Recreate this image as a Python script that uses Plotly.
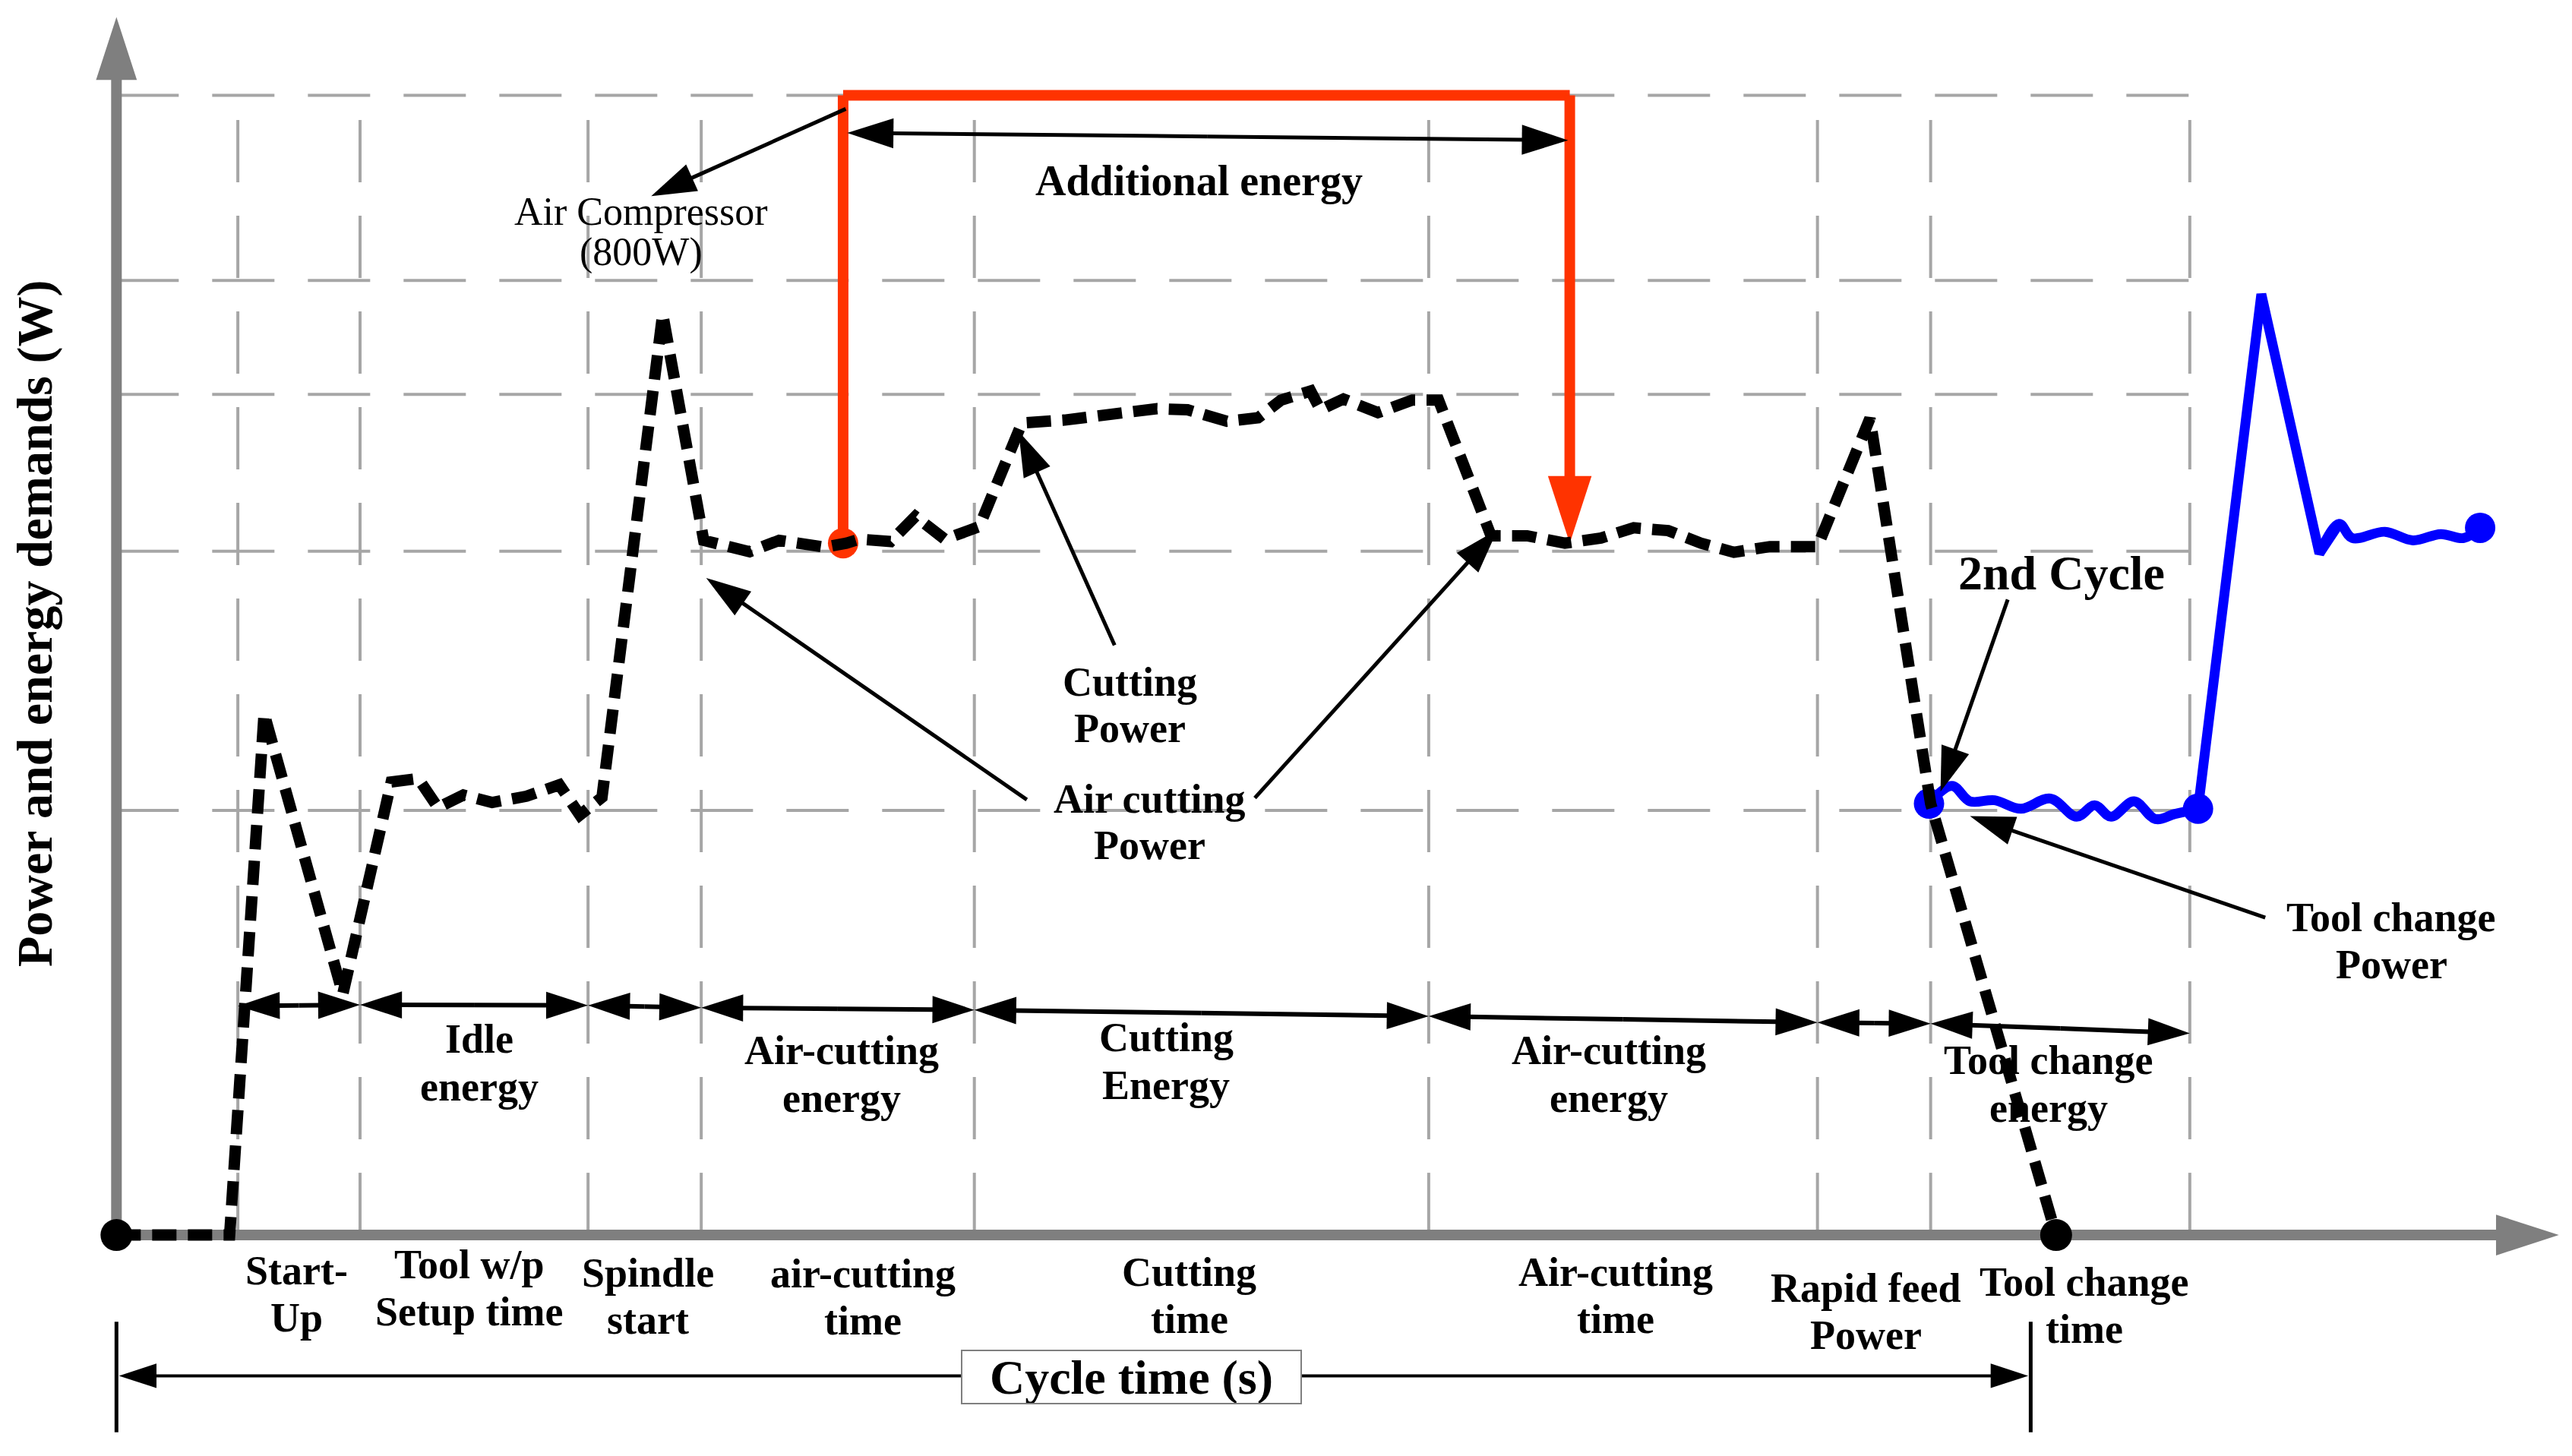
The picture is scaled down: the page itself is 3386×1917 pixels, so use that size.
import plotly.graph_objects as go

# ---------------- data (schematic: time in s, power in W) ----------------
cycle_t = [0, 6.9, 9.0, 13.8, 16.75, 18.4, 19.6, 21.15, 22.9, 25.0, 27.0, 28.25, 29.6, 33.3,
           35.8, 38.6, 40.4, 43.2, 44.5, 45.3, 47.2, 48.7, 50.5, 52.6, 55.2, 57.8, 60.85,
           63.45, 65.3, 67.7, 69.6, 71.0, 72.8, 73.4, 74.8, 76.9, 79.0, 80.6, 83.8, 86.0,
           88.3, 90.5, 92.5, 94.6, 96.6, 98.6, 100.8, 103.7, 106.9, 110.6, 118.25]
cycle_p = [0, 0, 915, 423, 795, 801, 750, 772, 759, 770, 790, 737, 768, 1616,
           1219, 1199, 1219, 1207, 1214, 1221, 1217, 1261, 1221, 1243, 1425, 1430, 1441,
           1450, 1448, 1428, 1434, 1465, 1481, 1448, 1467, 1443, 1465, 1465, 1227, 1227,
           1214, 1223, 1241, 1236, 1214, 1198, 1208, 1208, 1433, 757, 0]

tc_wave_t = [110.5, 111.9, 113.0, 114.5, 116.1, 117.9, 119.5, 120.6, 121.6, 123.0, 124.3, 125.5, 126.9]
tc_wave_p = [757, 788, 761, 763, 748, 766, 734, 754, 734, 761, 730, 739, 748]
spike_t = [126.9, 130.76, 134.3, 135.5]
spike_p = [748, 1651, 1196, 1248]
restart_t = [134.3, 135.5, 136.3, 138.3, 140.0, 141.7, 143.1, 144.1]
restart_p = [1196, 1248, 1223, 1234, 1219, 1230, 1223, 1241]

comp_t = [44.3, 44.3, 88.6, 88.6]
comp_p = [1214, 2000, 2000, 1214]

grid_t = [7.4, 14.85, 28.75, 35.65, 52.3, 80.0, 103.7, 110.6, 126.4]
grid_p = [745, 1200, 1475, 1675, 2000]
energy_level = [402, 404, 403, 399, 395, 384, 373, 371, 354]

cycle_end_t = 116.7
cycle_arrow_p = -247

phase_line1 = ["Start-", "Tool w/p", "Spindle", "air-cutting", "Cutting", "Air-cutting", "Rapid feed", "Tool change"]
phase_line2 = ["Up", "Setup time", "start", "time", "time", "time", "Power", "time"]
phase_label_t = [10.97, 21.5, 32.4, 45.5, 65.4, 91.4, 106.65, 119.97]
phase_label_p = [-104, -93.5, -108, -109, -106, -106, -135, -124]

energy_line1 = ["Idle", "Air-cutting", "Cutting", "Air-cutting", "Tool change"]
energy_line2 = ["energy", "energy", "Energy", "energy", "energy"]
energy_label_t = [22.1, 44.2, 64.0, 91.0, 117.8]
energy_label_p = [302, 282, 305, 282, 265]

# callouts: leader arrows from -> to
callout_from_t = [44.46, 60.85, 55.5, 69.4, 115.3, 131.0]
callout_from_p = [1976, 1035, 764, 767, 1115, 557]
callout_to_t = [32.6, 55.0, 35.95, 84.2, 111.2, 113.0]
callout_to_p = [1823, 1410, 1153, 1238, 778, 735]

FONT = "Liberation Serif"
GRID = "#A6A6A6"
AXIS = "#7F7F7F"
RED = "#FF3300"
BLUE = "#0000FF"

fig = go.Figure()


def line(ts, ps, color, width, dash=None, shape="linear"):
    fig.add_trace(go.Scatter(x=ts, y=ps, mode="lines",
                             line=dict(color=color, width=width, dash=dash, shape=shape),
                             hoverinfo="skip", showlegend=False))


def arrow(t0, p0, t1, p1, color, width, head):
    fig.add_trace(go.Scatter(x=[t0, t1], y=[p0, p1], mode="lines+markers",
                             line=dict(color=color, width=width),
                             marker=dict(symbol="arrow", size=head, color=color, opacity=1,
                                         angleref="previous", line=dict(width=0)),
                             hoverinfo="skip", showlegend=False))


def double_arrow(t0, p0, t1, p1, color, width, head):
    tm, pm = (t0 + t1) / 2, (p0 + p1) / 2
    arrow(tm, pm, t0, p0, color, width, head)
    arrow(tm, pm, t1, p1, color, width, head)


def dots(ts, ps, color, size):
    fig.add_trace(go.Scatter(x=ts, y=ps, mode="markers",
                             marker=dict(symbol="circle", size=size, color=color, opacity=1,
                                         line=dict(width=0)),
                             hoverinfo="skip", showlegend=False))


# grid
for p in grid_p:
    line([0, grid_t[-1]], [p, p], GRID, 4, dash="82px,44px")
for t in grid_t:
    line([t, t], [0, grid_p[-1]], GRID, 4, dash="82px,44px")

# axes with arrow heads
arrow(0, 0, 0, 2137, AXIS, 14, 87)
arrow(0, 0, 148.9, 0, AXIS, 14, 87)

# energy arrows between phase boundaries
for i in range(len(grid_t) - 1):
    double_arrow(grid_t[i], energy_level[i], grid_t[i + 1], energy_level[i + 1], "black", 6, 58)

# cycle time arrow with end bars
double_arrow(0.15, cycle_arrow_p, cycle_end_t - 0.15, cycle_arrow_p, "black", 4, 52)
line([0, 0], [-152, -346], "black", 5)
line([cycle_end_t, cycle_end_t], [-152, -346], "black", 5)

# air compressor additional energy
fig.add_trace(go.Scatter(x=comp_t, y=comp_p, mode="lines+markers",
                         line=dict(color=RED, width=14),
                         marker=dict(symbol="arrow", size=[0, 0, 0, 93], color=RED, opacity=1,
                                     angleref="previous", line=dict(width=0)),
                         hoverinfo="skip", showlegend=False))
dots([comp_t[0]], [comp_p[0]], RED, 40)

# second cycle (blue)
line(tc_wave_t, tc_wave_p, BLUE, 13, shape="spline")
line(spike_t, spike_p, BLUE, 13)
line(restart_t, restart_p, BLUE, 13, shape="spline")
dots([tc_wave_t[0], tc_wave_t[-1], restart_t[-1]], [tc_wave_p[0], tc_wave_p[-1], restart_p[-1]], BLUE, 40)

# main cycle profile
line(cycle_t, cycle_p, "black", 15, dash="32px,15px")
dots([cycle_t[0], cycle_t[-1]], [cycle_p[0], cycle_p[-1]], "black", 42)

# leader arrows
double_arrow(44.55, 1934, 88.5, 1921, "black", 5, 64)
for i in range(len(callout_from_t)):
    arrow(callout_from_t[i], callout_from_p[i], callout_to_t[i], callout_to_p[i], "black", 5, 62)


# ---------------- text ----------------
def text(t, p, s, size, bold=True, yshift=0, **kw):
    fig.add_annotation(x=t, y=p, text=s, showarrow=False, yshift=yshift,
                       font=dict(family=FONT, size=size, color="black",
                                 weight="bold" if bold else "normal"), **kw)


def two_lines(t, p, a, b, size, bold=True, gap=62):
    text(t, p, a, size, bold, yshift=gap / 2)
    text(t, p, b, size, bold, yshift=-gap / 2)


for i in range(len(phase_line1)):
    two_lines(phase_label_t[i], phase_label_p[i], phase_line1[i], phase_line2[i], 54, gap=62)
for i in range(len(energy_line1)):
    two_lines(energy_label_t[i], energy_label_p[i], energy_line1[i], energy_line2[i], 54, gap=63)

two_lines(31.97, 1760, "Air Compressor", "(800W)", 52, bold=False, gap=54)
text(66.0, 1850, "Additional energy", 56)
two_lines(61.8, 930, "Cutting", "Power", 54, gap=61)
two_lines(63.0, 725, "Air cutting", "Power", 54, gap=61)
text(118.6, 1161, "2nd Cycle", 64)
two_lines(138.7, 516, "Tool change", "Power", 54, gap=62)
text(-4.97, 1073, "Power and energy demands (W)", 66, textangle=-90)
text(61.87, -248.8, "Cycle time (s)", 64, bgcolor="white", bordercolor=AXIS,
     borderwidth=2, borderpad=0, width=445, height=68)

fig.update_layout(
    width=3386, height=1917,
    margin=dict(l=0, r=0, t=0, b=0),
    paper_bgcolor="white", plot_bgcolor="white",
    showlegend=False,
    xaxis=dict(range=[-7.1, 149.7], visible=False, fixedrange=True),
    yaxis=dict(range=[-387.7, 2167.1], visible=False, fixedrange=True),
)

fig.write_html("out.html", config={"displayModeBar": False},
               post_script="document.body.style.margin='0';document.body.style.overflow='hidden';")
